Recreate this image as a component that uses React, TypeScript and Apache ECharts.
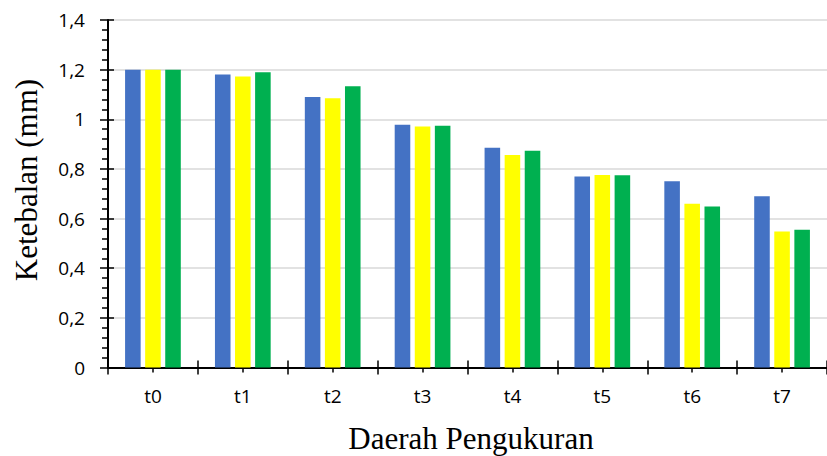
import React, { useEffect, useRef } from "react";
import * as echarts from "echarts";

const categories = ["t0", "t1", "t2", "t3", "t4", "t5", "t6", "t7"];
const seriesBlue = [1.2, 1.18, 1.09, 0.978, 0.885, 0.769, 0.75, 0.69];
const seriesYellow = [1.2, 1.172, 1.085, 0.971, 0.856, 0.776, 0.66, 0.548];
const seriesGreen = [1.2, 1.19, 1.133, 0.974, 0.873, 0.775, 0.649, 0.555];
const yMin = 0;
const yMax = 1.4;
const yInterval = 0.2;
const xTitle = "Daerah Pengukuran";
const yTitle = "Ketebalan (mm)";

export default function App() {
  const ref = useRef<HTMLDivElement>(null);
  useEffect(() => {
    if (!ref.current) return;
    const chart = echarts.init(ref.current, null, { renderer: "svg" });
    const tickFont = { fontFamily: "Open Sans", fontSize: 19, color: "#000" };
    const mkBar = (name: string, data: number[], color: string) => ({
      name,
      type: "bar",
      data,
      xAxisIndex: 0,
      yAxisIndex: 0,
      barCategoryGap: "38%",
      barGap: "29%",
      itemStyle: { color },
    });
    chart.setOption({
      animation: false,
      backgroundColor: "#fff",
      grid: { left: 108, right: -1, top: 20, bottom: 88.5, containLabel: false },
      xAxis: [
        {
          type: "category",
          data: categories,
          position: "bottom",
          axisLine: { show: true, lineStyle: { color: "#000", width: 2 } },
          axisTick: { show: true, length: 7, lineStyle: { color: "#000", width: 1.5 } },
          axisLabel: { ...tickFont, margin: 19 },
          splitLine: { show: false },
        },
        {
          type: "category",
          data: categories,
          position: "bottom",
          axisLine: { show: false },
          axisTick: { show: true, inside: true, length: 7, lineStyle: { color: "#000", width: 1.5 } },
          axisLabel: { show: false },
          splitLine: { show: false },
        },
        {
          type: "category",
          data: categories,
          position: "bottom",
          axisLine: { show: false },
          axisTick: { show: true, alignWithLabel: true, length: 5, lineStyle: { color: "#000", width: 1.5 } },
          axisLabel: { show: false },
          splitLine: { show: false },
        },
      ],
      yAxis: [
        {
          type: "value",
          position: "left",
          min: yMin,
          max: yMax,
          interval: yInterval,
          axisLine: { show: true, lineStyle: { color: "#000", width: 2 } },
          axisTick: { show: true, length: 8, lineStyle: { color: "#000", width: 1.5 } },
          minorTick: { show: true, splitNumber: 5, length: 6, lineStyle: { color: "#000", width: 1.5 } },
          axisLabel: {
            ...tickFont,
            margin: 23,
            formatter: (v: number) => String(Math.round(v * 10) / 10).replace(".", ","),
          },
          splitLine: { show: true, lineStyle: { color: "#d9d9d9", width: 1.5 } },
          minorSplitLine: { show: false },
        },
        {
          type: "value",
          position: "left",
          min: yMin,
          max: yMax,
          interval: yInterval,
          axisLine: { show: false },
          axisTick: { show: true, inside: true, length: 6, lineStyle: { color: "#000", width: 1.5 } },
          axisLabel: { show: false },
          splitLine: { show: false },
        },
      ],
      graphic: [
        {
          type: "text",
          x: 471,
          y: 438,
          style: {
            text: xTitle,
            fontFamily: "Liberation Serif",
            fontSize: 31,
            fill: "#000",
            textAlign: "center",
            textVerticalAlign: "middle",
          },
        },
        {
          type: "text",
          x: 26.5,
          y: 180,
          rotation: Math.PI / 2,
          style: {
            text: yTitle,
            fontFamily: "Liberation Serif",
            fontSize: 31,
            fill: "#000",
            textAlign: "center",
            textVerticalAlign: "middle",
          },
        },
      ],
      series: [
        mkBar("A", seriesBlue, "#4472C4"),
        mkBar("B", seriesYellow, "#FFFF00"),
        mkBar("C", seriesGreen, "#00B050"),
      ],
    });
    return () => chart.dispose();
  }, []);
  return (
    <div
      ref={ref}
      style={{ position: "absolute", left: 0, top: 0, width: 827, height: 456 }}
    />
  );
}
